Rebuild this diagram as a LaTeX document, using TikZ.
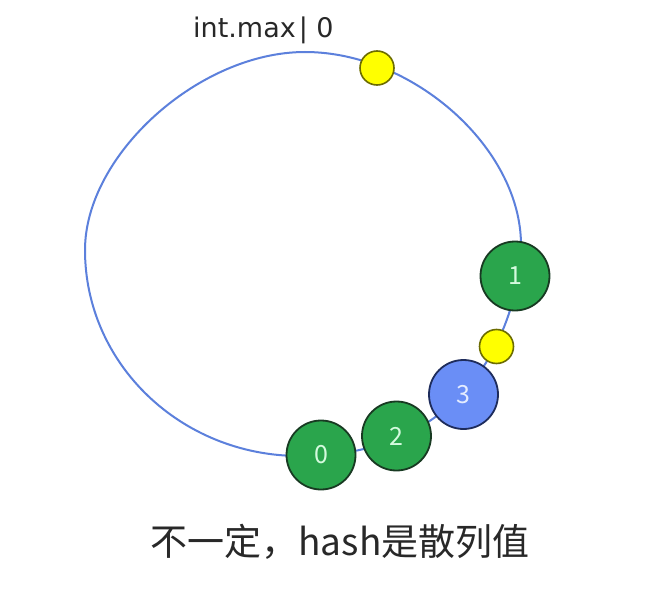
\documentclass[tikz,border=0pt]{standalone}
\usepackage{fontspec}
\setmainfont{Noto Sans CJK SC}
\newfontfamily\labelfont{DejaVu Sans}
\usetikzlibrary{backgrounds}
\definecolor{ringblue}{RGB}{92,128,220}
\definecolor{srvgreen}{RGB}{42,165,76}
\definecolor{srvedge}{RGB}{24,58,34}
\definecolor{srvtext}{RGB}{212,250,222}
\definecolor{newblue}{RGB}{106,142,246}
\definecolor{newedge}{RGB}{30,44,92}
\definecolor{newtext}{RGB}{228,236,255}
\definecolor{keyyellow}{RGB}{255,255,0}
\definecolor{keyedge}{RGB}{108,108,0}
\definecolor{inkgray}{RGB}{40,40,40}

\begin{document}
\begin{tikzpicture}[x=1pt,y=-1pt,
    server/.style={circle, draw=srvedge, line width=1.8pt, fill=srvgreen,
        minimum size=69pt, inner sep=0pt, text=srvtext,
        font=\fontsize{25}{25}\selectfont},
    newserver/.style={server, draw=newedge, fill=newblue, text=newtext},
    hashkey/.style={circle, draw=keyedge, line width=1.6pt, fill=keyyellow,
        minimum size=34pt, inner sep=0pt},
    ring/.style={draw=ringblue, line width=2pt}]
\useasboundingbox (0,0) rectangle (664,591);
% Servers
\node[server] (s0) at (321,455) {0};
\node[server] (s1) at (515,276) {1};
\node[server] (s2) at (396.5,436) {2};
\node[newserver] (s3) at (463.5,394.5) {3};
% Keys
\node[hashkey] (k0) at (377,68) {};
\node[hashkey] (k1) at (496.5,346.5) {};
% Labels
\node[anchor=base west, inner sep=0pt, text=inkgray,
    font=\labelfont\fontsize{27}{27}\selectfont] (top) at (193,38) {int.max\kern3pt| 0};
\node[anchor=base, inner sep=0pt, text=inkgray,
    font=\fontsize{37}{37}\selectfont] (caption) at (340,555) {不一定，hash是散列值};
% Ring
\begin{scope}[on background layer]
\fill[white] (0,0) rectangle (664,591);
\draw[ring] (85,250) .. controls (85,155) and (199,52) .. (305,52)
    .. controls (413,52) and (521,148) .. (521,245)
    .. controls (521,302) and (485,456) .. (300,456)
    .. controls (181,456) and (85,364) .. (85,250) -- cycle;
\end{scope}
\end{tikzpicture}
\end{document}
